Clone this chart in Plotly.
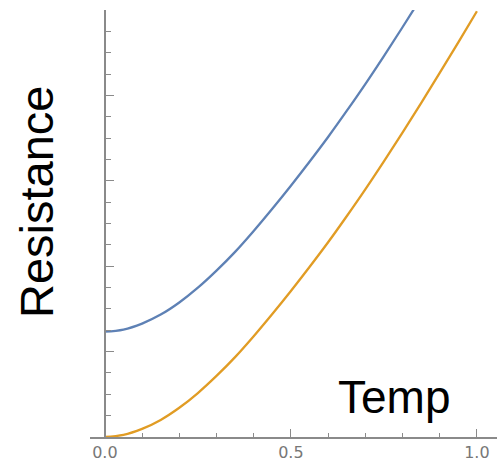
import plotly.graph_objects as go

# Data
temp = [0.0, 0.05, 0.1, 0.15, 0.2, 0.25, 0.3, 0.35, 0.4, 0.45, 0.5,
        0.55, 0.6, 0.65, 0.7, 0.75, 0.8, 0.85, 0.9, 0.95, 1.0]
res_blue = [1.233, 1.258, 1.328, 1.433, 1.575, 1.748, 1.948, 2.168, 2.413, 2.673, 2.943,
            3.223, 3.513, 3.818, 4.133, 4.461, 4.798, 5.143, 5.496, 5.855, 6.218]
res_orange = [0.0, 0.025, 0.095, 0.20, 0.342, 0.515, 0.715, 0.935, 1.18, 1.44, 1.71,
              1.99, 2.28, 2.585, 2.90, 3.228, 3.565, 3.91, 4.263, 4.622, 4.985]
x_tick_vals = [0.0, 0.5, 1.0]
x_tick_text = ["0.0", "0.5", "1.0"]

BLUE = "#5E81B5"
ORANGE = "#E19C24"
AXIS = "#8a8a8a"

x_range = [-0.04, 1.054]
y_range = [0, 5]

fig = go.Figure()
fig.add_trace(go.Scatter(x=temp, y=res_blue, mode="lines",
                         line=dict(color=BLUE, width=2.3, shape="spline", smoothing=1.0),
                         showlegend=False, hoverinfo="skip"))
fig.add_trace(go.Scatter(x=temp, y=res_orange, mode="lines",
                         line=dict(color=ORANGE, width=2.3, shape="spline", smoothing=1.0),
                         showlegend=False, hoverinfo="skip"))

y_pos = (0 - x_range[0]) / (x_range[1] - x_range[0])

fig.update_layout(
    width=499, height=466,
    margin=dict(l=90, r=2, t=10, b=29),
    paper_bgcolor="white", plot_bgcolor="white",
    xaxis=dict(range=x_range, showgrid=False, zeroline=False,
               showline=True, linecolor=AXIS, linewidth=1.5,
               ticks="inside", ticklen=8, tickwidth=1.3, tickcolor=AXIS,
               tickvals=x_tick_vals, ticktext=x_tick_text,
               tickfont=dict(family="DejaVu Sans", size=16, color="#777777"),
               minor=dict(dtick=0.1, tick0=0, ticks="inside", ticklen=4,
                          tickwidth=1.2, tickcolor=AXIS),
               fixedrange=True),
    yaxis=dict(range=y_range, showgrid=False, zeroline=False,
               anchor="free", position=y_pos,
               showline=True, linecolor=AXIS, linewidth=1.5,
               ticks="inside", ticklen=8, tickwidth=1.3, tickcolor=AXIS,
               dtick=1, tick0=0, showticklabels=False,
               minor=dict(dtick=0.25, tick0=0, ticks="inside", ticklen=5,
                          tickwidth=1.2, tickcolor=AXIS),
               fixedrange=True),
    annotations=[
        dict(text="Resistance", xref="paper", yref="paper",
             x=(36 - 90) / 407, y=(437 - 202) / 427,
             xanchor="center", yanchor="middle", textangle=-90,
             showarrow=False,
             font=dict(family="Liberation Sans", size=47, color="black")),
        dict(text="Temp", xref="paper", yref="paper",
             x=(393.5 - 90) / 407, y=(437 - 397) / 427,
             xanchor="center", yanchor="middle",
             showarrow=False,
             font=dict(family="Liberation Sans", size=46, color="black")),
    ],
)

fig.write_html("out.html")
